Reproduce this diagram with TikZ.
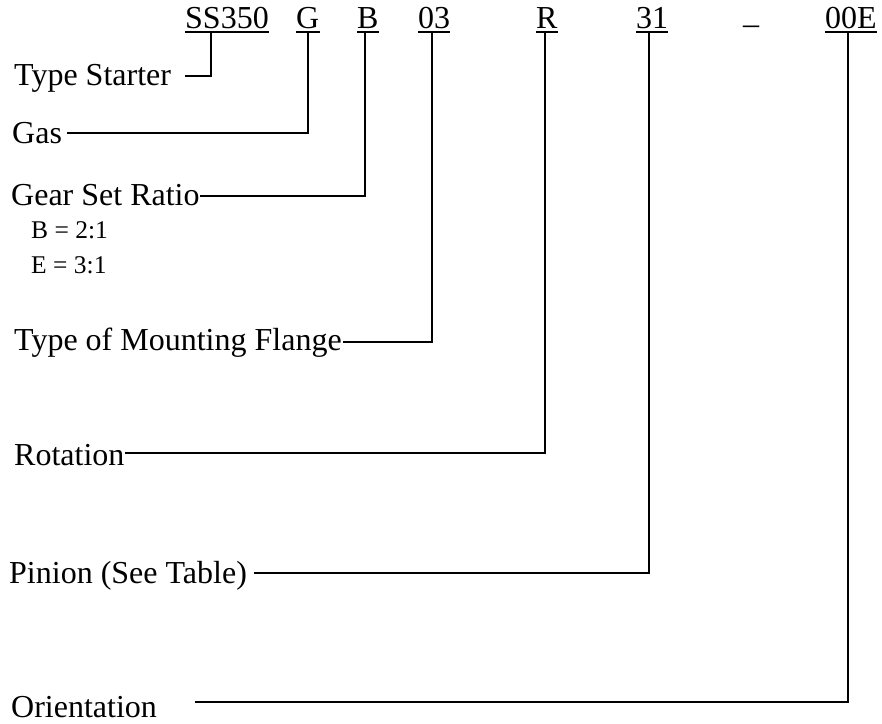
\documentclass[tikz,border=0pt]{standalone}
\usepackage{fontspec}
\setmainfont{Liberation Serif}
\begin{document}
\begin{tikzpicture}[x=1pt,y=1pt,
  lab/.style={inner sep=0pt,anchor=base west,font=\fontsize{32}{38}\selectfont},
  sub/.style={inner sep=0pt,anchor=base west,font=\fontsize{25.5}{30}\selectfont},
  ul/.style={line width=2pt},
  conn/.style={line width=2.4pt}]
\useasboundingbox (0,0) rectangle (882,-723);
% code letters
\node[lab] (ss) at (185,-28) {SS350};
\node[lab] (g) at (296,-28) {G};
\node[lab] (b) at (357,-28) {B};
\node[lab] (f) at (418,-28) {03};
\node[lab] (r) at (536,-28) {R};
\node[lab] (p) at (636,-28) {31};
\node[lab] (dash) at (743,-23) {\_};
\node[lab] (o) at (825,-28) {00E};
\foreach \n in {ss,g,b,f,r,p,o}{
  \draw[ul] ([yshift=-4pt]\n.base west) -- ([yshift=-4pt]\n.base east);
}
% labels
\node[lab] (ts) at (14,-85) {Type Starter};
\node[lab] (gas) at (12,-143) {Gas};
\node[lab] (gsr) at (11,-205) {Gear Set Ratio};
\node[sub] (b21) at (31,-238) {B = 2:1};
\node[sub] (e31) at (31,-273) {E = 3:1};
\node[lab] (tmf) at (14,-350) {Type of Mounting Flange};
\node[lab] (rot) at (14,-465) {Rotation};
\node[lab] (pin) at (9,-583) {Pinion (See Table)};
\node[lab] (ori) at (11,-717) {Orientation};
% connector start points (on underlines)
\coordinate (ssU) at (211,-32);
\coordinate (gU) at (308,-32);
\coordinate (bU) at (365,-32);
\coordinate (fU) at (432,-32);
\coordinate (rU) at (545,-32);
\coordinate (pU) at (649,-32);
\coordinate (oU) at (848,-32);
% connector end points (beside labels)
\coordinate (tsE) at (185,-76);
\coordinate (gasE) at (67,-133);
\coordinate (gsrE) at (200,-196);
\coordinate (tmfE) at (343,-342);
\coordinate (rotE) at (125,-453);
\coordinate (pinE) at (254,-573);
\coordinate (oriE) at (195,-702);
\draw[conn] (ssU) |- (tsE);
\draw[conn] (gU) |- (gasE);
\draw[conn] (bU) |- (gsrE);
\draw[conn] (fU) |- (tmfE);
\draw[conn] (rU) |- (rotE);
\draw[conn] (pU) |- (pinE);
\draw[conn] (oU) |- (oriE);
\end{tikzpicture}
\end{document}
